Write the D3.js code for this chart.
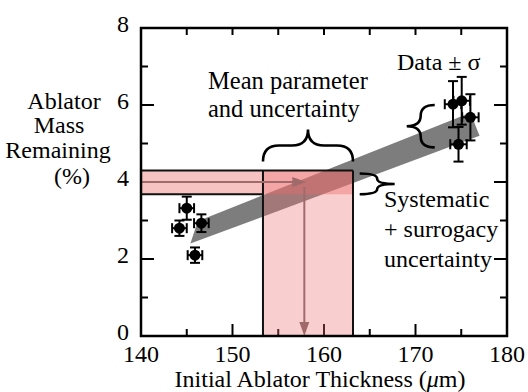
<!DOCTYPE html>
<html>
<head>
<meta charset="utf-8">
<script src="https://cdn.jsdelivr.net/npm/d3@7"></script>
<style>
  html, body { margin: 0; padding: 0; background: #fff; }
  svg { display: block; }
  text { font-family: 'Liberation Serif', 'Times New Roman', Times, 'DejaVu Serif', serif; }
</style>
</head>
<body>
<svg id="chart" width="528" height="392"></svg>
<script>
// Measured shots: initial ablator thickness (µm) vs ablator mass remaining (%)
const thickness  = [145.0, 144.2, 146.6, 145.9, 174.1, 175.05, 176.0, 174.7];
const massPct    = [3.32, 2.80, 2.93, 2.10, 6.02, 6.11, 5.68, 4.98];
const sigmaThick = [0.8, 0.8, 0.8, 0.8, 0.9, 0.9, 0.9, 0.9];
const sigmaMass  = [0.30, 0.20, 0.23, 0.20, 0.60, 0.62, 0.60, 0.45];

// Model band (systematic + surrogacy uncertainty), corner points
const bandThick = [145.4, 146.2, 176.0, 177.0];
const bandMass  = [2.40, 2.98, 5.80, 5.20];

// Inferred parameter and its uncertainty
const paramRange = [153.33, 163.17];
const paramMean  = 157.85;
const massRange  = [3.68, 4.30];
const massMean   = 4.0;

// Axis ticks
const xMajor = [140, 150, 160, 170, 180];
const xMinor = [145, 155, 165, 175];
const yMajor = [0, 2, 4, 6, 8];
const yMinor = [1, 3, 5, 7];

const svg = d3.select("#chart");
const x = d3.scaleLinear().domain([140, 180]).range([141, 507]);
const y = d3.scaleLinear().domain([0, 8]).range([336, 28]);
const [x0, x1] = x.range();
const [y0, y1] = y.range();

// Inward ticks on all four sides
const tickG = svg.append("g").attr("stroke", "#000").attr("stroke-width", 2);
xMajor.forEach(v => {
  tickG.append("line").attr("x1", x(v)).attr("x2", x(v)).attr("y1", y0).attr("y2", y0 - 12);
  tickG.append("line").attr("x1", x(v)).attr("x2", x(v)).attr("y1", y1).attr("y2", y1 + 7);
});
xMinor.forEach(v => {
  tickG.append("line").attr("x1", x(v)).attr("x2", x(v)).attr("y1", y0).attr("y2", y0 - 7);
  tickG.append("line").attr("x1", x(v)).attr("x2", x(v)).attr("y1", y1).attr("y2", y1 + 7);
});
yMajor.forEach(v => {
  tickG.append("line").attr("x1", x0).attr("x2", x0 + 13).attr("y1", y(v)).attr("y2", y(v));
  tickG.append("line").attr("x1", x1).attr("x2", x1 - 13).attr("y1", y(v)).attr("y2", y(v));
});
yMinor.forEach(v => {
  tickG.append("line").attr("x1", x0).attr("x2", x0 + 7).attr("y1", y(v)).attr("y2", y(v));
  tickG.append("line").attr("x1", x1).attr("x2", x1 - 7).attr("y1", y(v)).attr("y2", y(v));
});

// Gray model band
svg.append("polygon")
  .attr("points", bandThick.map((t, i) => [x(t), y(bandMass[i])].join(",")).join(" "))
  .attr("fill", "#7d7d7d");

// Pink inference regions
svg.append("rect")
  .attr("x", x0).attr("y", y(massRange[1]))
  .attr("width", x(paramRange[1]) - x0)
  .attr("height", y(massRange[0]) - y(massRange[1]))
  .attr("fill", "rgba(236,110,110,0.42)");
svg.append("rect")
  .attr("x", x(paramRange[0])).attr("y", y(massRange[1]))
  .attr("width", x(paramRange[1]) - x(paramRange[0]))
  .attr("height", y0 - y(massRange[1]))
  .attr("fill", "rgba(236,110,110,0.34)");

// Region outline
const outline = d3.path();
outline.moveTo(x0, y(massRange[1])); outline.lineTo(x(paramRange[1]), y(massRange[1]));
outline.moveTo(x0, y(massRange[0])); outline.lineTo(x(paramRange[0]), y(massRange[0]));
outline.moveTo(x(paramRange[0]), y(massRange[1])); outline.lineTo(x(paramRange[0]), y0);
outline.moveTo(x(paramRange[1]), y(massRange[1])); outline.lineTo(x(paramRange[1]), y0);
svg.append("path").attr("d", outline.toString())
  .attr("fill", "none").attr("stroke", "#111").attr("stroke-width", 2);

// Arrows: measured mass -> inferred thickness
const arrowCol = "#a06a6a";
const ay = y(massMean), ax = x(paramMean);
svg.append("line").attr("x1", x0).attr("x2", ax - 8).attr("y1", ay).attr("y2", ay)
  .attr("stroke", arrowCol).attr("stroke-width", 2);
svg.append("path").attr("d", `M${ax + 2},${ay} L${ax - 12},${ay - 5} L${ax - 12},${ay + 5} Z`)
  .attr("fill", arrowCol);
svg.append("line").attr("x1", ax).attr("x2", ax).attr("y1", y(3.87)).attr("y2", y0 - 12)
  .attr("stroke", arrowCol).attr("stroke-width", 2);
svg.append("path").attr("d", `M${ax},${y0} L${ax - 5},${y0 - 14} L${ax + 5},${y0 - 14} Z`)
  .attr("fill", arrowCol);

// Data points with error bars
const pts = svg.append("g").attr("stroke", "#000").attr("stroke-width", 2);
thickness.forEach((t, i) => {
  const cx = x(t), cy = y(massPct[i]);
  const xl = x(t - sigmaThick[i]), xr = x(t + sigmaThick[i]);
  const yt = y(massPct[i] + sigmaMass[i]), yb = y(massPct[i] - sigmaMass[i]);
  pts.append("line").attr("x1", xl).attr("x2", xr).attr("y1", cy).attr("y2", cy);
  pts.append("line").attr("x1", xl).attr("x2", xl).attr("y1", cy - 5).attr("y2", cy + 5);
  pts.append("line").attr("x1", xr).attr("x2", xr).attr("y1", cy - 5).attr("y2", cy + 5);
  pts.append("line").attr("x1", cx).attr("x2", cx).attr("y1", yt).attr("y2", yb);
  pts.append("line").attr("x1", cx - 5).attr("x2", cx + 5).attr("y1", yt).attr("y2", yt);
  pts.append("line").attr("x1", cx - 5).attr("x2", cx + 5).attr("y1", yb).attr("y2", yb);
  pts.append("circle").attr("cx", cx).attr("cy", cy).attr("r", 5.5).attr("fill", "#000").attr("stroke", "none");
});

// Curly braces
function hBrace(xa, xb, yb, d) {          // ends at yb, tip at yb - d
  const ym = yb - d / 2, xm = (xa + xb) / 2, r = Math.min(d / 2, (xb - xa) / 4);
  return `M${xa},${yb} Q${xa},${ym} ${xa + r},${ym} L${xm - r},${ym} Q${xm},${ym} ${xm},${yb - d}` +
         ` Q${xm},${ym} ${xm + r},${ym} L${xb - r},${ym} Q${xb},${ym} ${xb},${yb}`;
}
function vBrace(xe, ya, yb, d) {          // ends at xe, tip at xe + d (d may be negative)
  const xm = xe + d / 2, ymid = (ya + yb) / 2, r = Math.min(Math.abs(d) / 2, (yb - ya) / 4);
  return `M${xe},${ya} Q${xm},${ya} ${xm},${ya + r} L${xm},${ymid - r} Q${xm},${ymid} ${xe + d},${ymid}` +
         ` Q${xm},${ymid} ${xm},${ymid + r} L${xm},${yb - r} Q${xm},${yb} ${xe},${yb}`;
}
const braceG = svg.append("g").attr("fill", "none").attr("stroke", "#000").attr("stroke-width", 2.6);
braceG.append("path").attr("d", hBrace(x(paramRange[0]), x(paramRange[1]), y(massRange[1]) - 9, 32));
braceG.append("path").attr("d", vBrace(x(172.1), y(6.0), y(4.9), -28));
braceG.append("path").attr("d", vBrace(x(163.9), y(4.22), y(3.68), 35));

// Frame
svg.append("rect").attr("x", x0).attr("y", y1).attr("width", x1 - x0).attr("height", y0 - y1)
  .attr("fill", "none").attr("stroke", "#000").attr("stroke-width", 2.5);

// Tick labels
const fs = 24;
svg.append("g").selectAll("text").data(xMajor).join("text")
  .attr("x", d => x(d)).attr("y", 362).attr("text-anchor", "middle")
  .attr("font-size", fs).text(d => d);
svg.append("g").selectAll("text").data(yMajor).join("text")
  .attr("x", 129).attr("y", d => y(d) + 4).attr("text-anchor", "end")
  .attr("font-size", fs).text(d => d);

// Axis titles
svg.append("text").attr("x", 320).attr("y", 387).attr("text-anchor", "middle")
  .attr("font-size", fs)
  .call(t => {
    t.append("tspan").text("Initial Ablator Thickness (");
    t.append("tspan").attr("font-style", "italic").text("μ");
    t.append("tspan").text("m)");
  });
const yTitle = [["Ablator", 64, 109], ["Mass", 59, 133], ["Remaining", 58, 158], ["(%)", 72, 184]];
svg.append("g").selectAll("text").data(yTitle).join("text")
  .attr("x", d => d[1]).attr("y", d => d[2]).attr("text-anchor", "middle")
  .attr("font-size", fs).text(d => d[0]);

// Annotations
const notes = [
  ["Data ± σ", 397, 70, 24],
  ["Mean parameter", 208, 89, 24.5],
  ["and uncertainty", 208, 117, 24.5],
  ["Systematic", 384, 207, 24],
  ["+ surrogacy", 384, 237, 24],
  ["uncertainty", 384, 267, 24]
];
svg.append("g").selectAll("text").data(notes).join("text")
  .attr("x", d => d[1]).attr("y", d => d[2])
  .attr("font-size", d => d[3]).text(d => d[0]);
</script>
</body>
</html>
